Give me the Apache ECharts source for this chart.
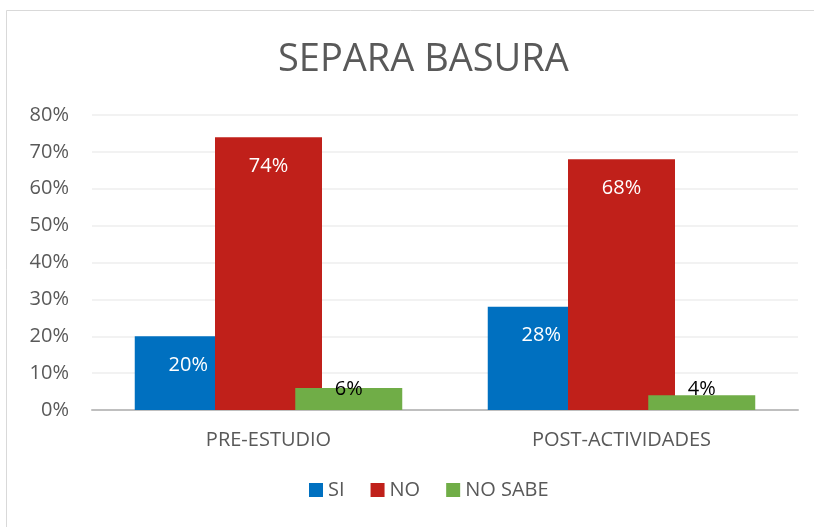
<!DOCTYPE html>
<html>
<head>
<meta charset="utf-8">
<script src="https://cdn.jsdelivr.net/npm/echarts@6/dist/echarts.min.js"></script>
<style>
  html, body { margin: 0; padding: 0; background: #fff; }
  #chart { width: 814px; height: 527px; }
</style>
</head>
<body>
<div id="chart"></div>
<script>
// datos
const categorias = ['PRE-ESTUDIO', 'POST-ACTIVIDADES'];
const series = ['SI', 'NO', 'NO SABE'];
const si = [20, 28];
const no = [74, 68];
const noSabe = [6, 4];
const colores = ['#0070C0', '#C0201A', '#70AD47'];

const fuente = 'Open Sans';
const chart = echarts.init(document.getElementById('chart'));

const etiquetaDentro = {
  show: true,
  position: 'insideTop',
  distance: 19,
  color: '#ffffff',
  fontFamily: fuente,
  fontSize: 20,
  formatter: '{c}%'
};

const option = {
  backgroundColor: '#ffffff',
  animation: false,
  color: colores,
  title: {
    text: 'SEPARA BASURA',
    left: 273,
    top: 36,
    textStyle: {
      fontFamily: fuente,
      fontSize: 38,
      fontWeight: 'normal',
      color: '#595959'
    }
  },
  graphic: [{
    type: 'rect',
    shape: { x: 6.5, y: 10.5, width: 900, height: 700 },
    style: { fill: 'none', stroke: '#d9d9d9', lineWidth: 1 },
    z: -1
  }],
  legend: {
    data: series,
    bottom: 22,
    left: 304,
    itemWidth: 14,
    itemHeight: 14,
    itemGap: 26,
    icon: 'rect',
    textStyle: { fontFamily: fuente, fontSize: 20, color: '#595959' }
  },
  grid: {
    left: 92,
    right: 16,
    top: 115,
    bottom: 117
  },
  xAxis: {
    type: 'category',
    data: categorias,
    axisTick: { show: false },
    axisLine: { lineStyle: { color: '#bfbfbf', width: 2 } },
    axisLabel: { fontFamily: fuente, fontSize: 20, color: '#595959', margin: 20 }
  },
  yAxis: {
    type: 'value',
    min: 0,
    max: 80,
    interval: 10,
    axisLine: { show: false },
    axisTick: { show: false },
    splitLine: { lineStyle: { color: '#eeeeee', width: 1.5 } },
    axisLabel: {
      fontFamily: fuente, fontSize: 20, color: '#595959', margin: 23,
      formatter: '{value}%'
    }
  },
  series: [{
    name: series[0],
    type: 'bar',
    data: si,
    barWidth: 107,
    barGap: '-25%',
    label: etiquetaDentro
  }, {
    name: series[1],
    type: 'bar',
    data: no,
    barWidth: 107,
    barGap: '-25%',
    label: etiquetaDentro
  }, {
    name: series[2],
    type: 'bar',
    data: noSabe,
    barWidth: 107,
    barGap: '-25%',
    label: {
      show: true,
      position: 'insideBottom',
      distance: 11,
      color: '#000000',
      fontFamily: fuente,
      fontSize: 20,
      formatter: '{c}%'
    }
  }]
};

chart.setOption(option);
</script>
</body>
</html>
